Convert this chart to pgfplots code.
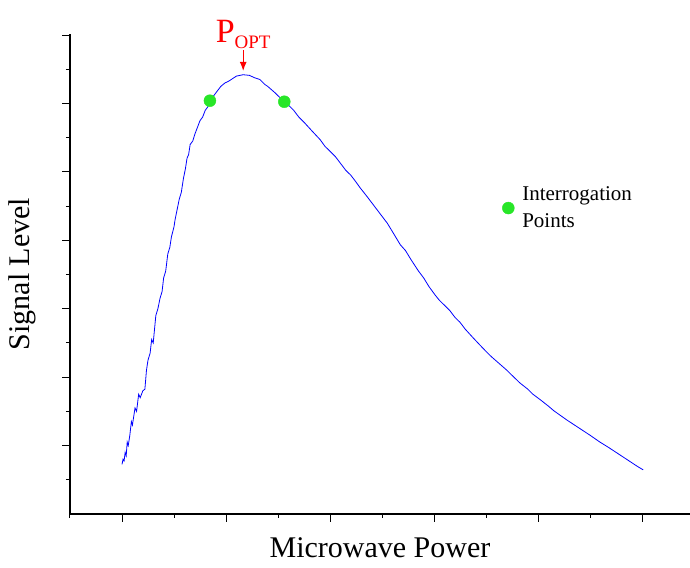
\documentclass[border=0pt]{standalone}
\usepackage{pgfplots}
\pgfplotsset{compat=1.18}
\usepackage{fontspec}
\setmainfont{Liberation Serif}
\usetikzlibrary{arrows.meta}
\begin{document}
\begin{tikzpicture}[x=1pt,y=1pt]
\useasboundingbox (-70,-53) rectangle (620,514);
\begin{axis}[at={(0,0)},anchor=origin,scale only axis,width=620pt,height=480pt,
 xmin=0,xmax=11.92,ymin=0,ymax=14.03,
 axis x line=bottom, axis y line=left, axis line style={-,line width=1.3pt},
 xtick={1,3,5,7,9,11}, minor xtick={0,2,4,6,8,10}, xticklabels={},
 ytick={2,4,6,8,10,12,14}, minor ytick={1,3,5,7,9,11,13}, yticklabels={},
 tick align=outside, major tick length=8pt, minor tick length=4pt,
 every tick/.style={black,line width=1pt},
 xlabel={\fontsize{30}{30}\selectfont Microwave Power},
 ylabel={\fontsize{30}{30}\selectfont Signal Level},
 xlabel style={at={(axis description cs:0.5,0)},anchor=north,yshift=-20pt},
 ylabel style={at={(axis description cs:0,0.5)},anchor=south,yshift=30pt},
 legend style={draw=none,fill=none,at={(axis cs:8.25,8.2)},anchor=south west,font=\fontsize{21}{27}\selectfont,align=left,
   nodes={inner xsep=8pt}},
 legend cell align=left, clip=false]
\addplot[blue,line width=0.8pt,forget plot] coordinates {
(1,1.45)(1.02,1.6)(1.04,1.55)(1.06,1.8)(1.08,1.7)(1.1,2.1)(1.12,2.0)(1.15,2.3)(1.18,2.7)(1.2,2.6)(1.25,3.1)(1.28,3.0)(1.32,3.5)(1.35,3.4)(1.4,3.6)(1.44,3.65)(1.47,4.2)(1.5,4.5)(1.54,4.7)(1.57,5.1)(1.6,5.0)(1.65,5.8)(1.69,6.0)(1.73,6.3)(1.77,6.5)(1.8,6.9)(1.84,7.1)(1.88,7.6)(1.92,7.8)(1.95,8.1)(2.0,8.4)(2.02,8.6)(2.06,8.9)(2.1,9.2)(2.14,9.4)(2.18,9.8)(2.22,10.1)(2.25,10.4)(2.28,10.5)(2.31,10.8)(2.36,10.9)(2.4,11.1)(2.45,11.3)(2.5,11.5)(2.55,11.6)(2.6,11.8)(2.65,11.9)(2.69,12.08)(2.75,12.2)(2.8,12.3)(2.85,12.4)(2.9,12.5)(2.98,12.6)(3.05,12.65)(3.1,12.7)(3.2,12.8)(3.33,12.84)(3.45,12.82)(3.55,12.75)(3.65,12.7)(3.75,12.55)(3.8,12.5)(3.95,12.3)(4.05,12.15)(4.12,12.05)(4.2,11.95)(4.3,11.8)(4.4,11.6)(4.5,11.45)(4.65,11.2)(4.81,10.94)(4.9,10.75)(5.0,10.6)(5.1,10.45)(5.2,10.25)(5.3,10.05)(5.4,9.9)(5.5,9.7)(5.58,9.53)(5.7,9.3)(5.8,9.1)(5.9,8.9)(6.0,8.7)(6.1,8.5)(6.2,8.25)(6.35,7.87)(6.45,7.7)(6.55,7.45)(6.7,7.1)(6.8,6.9)(6.9,6.65)(7.02,6.4)(7.1,6.25)(7.2,6.1)(7.3,5.95)(7.4,5.75)(7.5,5.6)(7.6,5.4)(7.75,5.15)(7.88,4.94)(8.0,4.75)(8.1,4.6)(8.25,4.4)(8.4,4.2)(8.5,4.05)(8.65,3.83)(8.8,3.65)(8.9,3.5)(9.05,3.33)(9.2,3.15)(9.3,3.02)(9.42,2.89)(9.55,2.75)(9.7,2.6)(9.85,2.45)(10.0,2.3)(10.19,2.1)(10.35,1.95)(10.5,1.8)(10.65,1.65)(10.8,1.5)(10.9,1.4)(11.02,1.29)};
\addplot[only marks,mark=*,mark size=6pt,color={rgb,255:red,40;green,230;blue,40},mark options={draw=none,fill={rgb,255:red,40;green,230;blue,40}}] coordinates {(2.69,12.08)(4.12,12.05)};
\addlegendentry{Interrogation\\Points}
\draw[red,line width=1.3pt,-{Latex[length=9pt,width=7pt]}] (axis cs:3.33,13.55) -- (axis cs:3.33,12.95);
\node[red,anchor=south,inner sep=0pt] at (axis cs:3.33,13.6) {\fontsize{34}{34}\selectfont P\raisebox{-6pt}{\fontsize{19}{19}\selectfont OPT}};
\end{axis}
\end{tikzpicture}
\end{document}
